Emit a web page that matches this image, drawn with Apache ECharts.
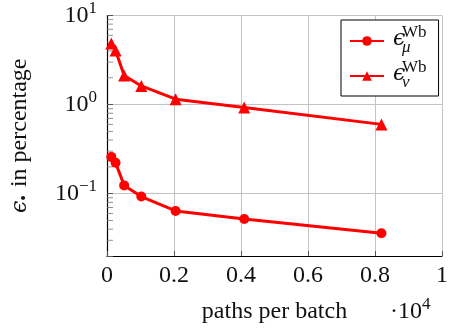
<!DOCTYPE html>
<html>
<head>
<meta charset="utf-8">
<script src="https://cdn.jsdelivr.net/npm/echarts@6/dist/echarts.min.js"></script>
<style>html,body{margin:0;padding:0;background:#fff;}#c{width:451px;height:331px;}</style>
</head>
<body>
<div id="c"></div>
<script>
const pathsPerBatch = [128, 256, 512, 1024, 2048, 4096, 8192];
const epsMu = [0.259, 0.223, 0.124, 0.093, 0.064, 0.052, 0.036];
const epsNu = [4.85, 4.05, 2.12, 1.62, 1.15, 0.93, 0.60];
const yMinorTicks = [0.03,0.04,0.05,0.06,0.07,0.08,0.09,0.2,0.3,0.4,0.5,0.6,0.7,0.8,0.9,2,3,4,5,6,7,8,9];
const FONT = 'Liberation Serif';
const GREEK = 'DejaVu Serif';
const FS = 24, SFS = 17;

const chart = echarts.init(document.getElementById('c'), null, {renderer: 'canvas'});
const legendFmt = (sub) => '{sup|Wb}\n{e|ϵ}\n{sub|' + sub + '}';
const option = {
  animation: false,
  backgroundColor: '#fff',
  grid: {left: 107, right: 4, top: 15, bottom: 75},
  xAxis: {
    type: 'value', min: 0, max: 10000, interval: 2000,
    name: 'paths per batch', nameLocation: 'middle', nameGap: 44,
    nameTextStyle: {fontFamily: FONT, fontSize: FS, color: '#111'},
    axisLine: {show: true, onZero: false, lineStyle: {color: '#000', width: 1.2}},
    axisTick: {show: true, inside: true, length: 5, lineStyle: {color: '#555'}},
    axisLabel: {fontFamily: FONT, fontSize: FS, color: '#111', margin: 8,
      formatter: v => String(v / 10000)},
    splitLine: {show: true, lineStyle: {color: '#c4c4c4', width: 1}}
  },
  yAxis: {
    type: 'log', logBase: 10, min: 0.02, max: 10,
    name: '{e|ϵ}{b|•} in percentage', nameLocation: 'middle', nameGap: 74, nameRotate: 90,
    nameTextStyle: {fontFamily: FONT, fontSize: FS, color: '#111',
      rich: {e: {fontFamily: GREEK, fontStyle: 'italic', fontSize: 22, color: '#111'},
             b: {fontFamily: FONT, fontSize: 16, color: '#111', padding: [10, 2, 0, 0]}}},
    axisLine: {show: true, lineStyle: {color: '#000', width: 1.2}},
    axisTick: {show: true, inside: true, length: 6, lineStyle: {color: '#555'}},
    axisLabel: {fontFamily: FONT, fontSize: FS, color: '#111', margin: 10,
      formatter: v => {
        const l = Math.log10(v), e = Math.round(l);
        if (Math.abs(l - e) > 1e-6) return '';
        return '10{sup|' + (e < 0 ? '−' + (-e) : e) + '}';
      },
      rich: {sup: {fontFamily: FONT, fontSize: SFS, color: '#111', padding: [0, 0, 14, 0]}}
    },
    splitLine: {show: true, lineStyle: {color: '#c4c4c4', width: 1}}
  },
  legend: {
    left: 341, top: 20, orient: 'vertical',
    padding: [4, 12, 5, 8], itemGap: 3,
    itemWidth: 34, itemHeight: 12,
    borderColor: '#000', borderWidth: 1, backgroundColor: '#fff',
    data: ['mu', 'nu'],
    formatter: name => legendFmt(name === 'mu' ? 'μ' : 'ν'),
    textStyle: {fontFamily: FONT, color: '#111', fontSize: 8, lineHeight: 6,
      rich: {
        e: {fontFamily: GREEK, fontStyle: 'italic', fontSize: 22, color: '#111', lineHeight: 7, padding: [0, 0, 0, 4]},
        sup: {fontFamily: FONT, fontSize: SFS, color: '#111', lineHeight: 6, padding: [0, 0, 0, 13]},
        sub: {fontFamily: FONT, fontSize: SFS, color: '#111', lineHeight: 10, fontStyle: 'italic', padding: [0, 0, 0, 13]}
      }
    }
  },
  graphic: [{
    type: 'text', left: 390, top: 296,
    style: {text: '·10{s|4}', fontFamily: FONT, fontSize: FS, fill: '#111',
      rich: {s: {fontFamily: FONT, fontSize: SFS, fill: '#111', padding: [0, 0, 14, 0]}}}
  }],
  series: [
    {name: 'mu', type: 'line', data: pathsPerBatch.map((x, i) => [x, epsMu[i]]),
     symbol: 'circle', symbolSize: 10, color: '#ff0000',
     lineStyle: {color: '#ff0000', width: 3}, itemStyle: {color: '#ff0000'}, z: 5},
    {name: 'nu', type: 'line', data: pathsPerBatch.map((x, i) => [x, epsNu[i]]),
     symbol: 'triangle', symbolSize: 12, color: '#ff0000',
     lineStyle: {color: '#ff0000', width: 3}, itemStyle: {color: '#ff0000'}, z: 5},
    {name: 'minorTicks', type: 'scatter', silent: true, data: yMinorTicks.map(v => [0, v]),
     symbol: 'rect', symbolSize: [6, 1], symbolOffset: [3, 0],
     itemStyle: {color: '#777'}, z: 3}
  ]
};
chart.setOption(option);
</script>
</body>
</html>
